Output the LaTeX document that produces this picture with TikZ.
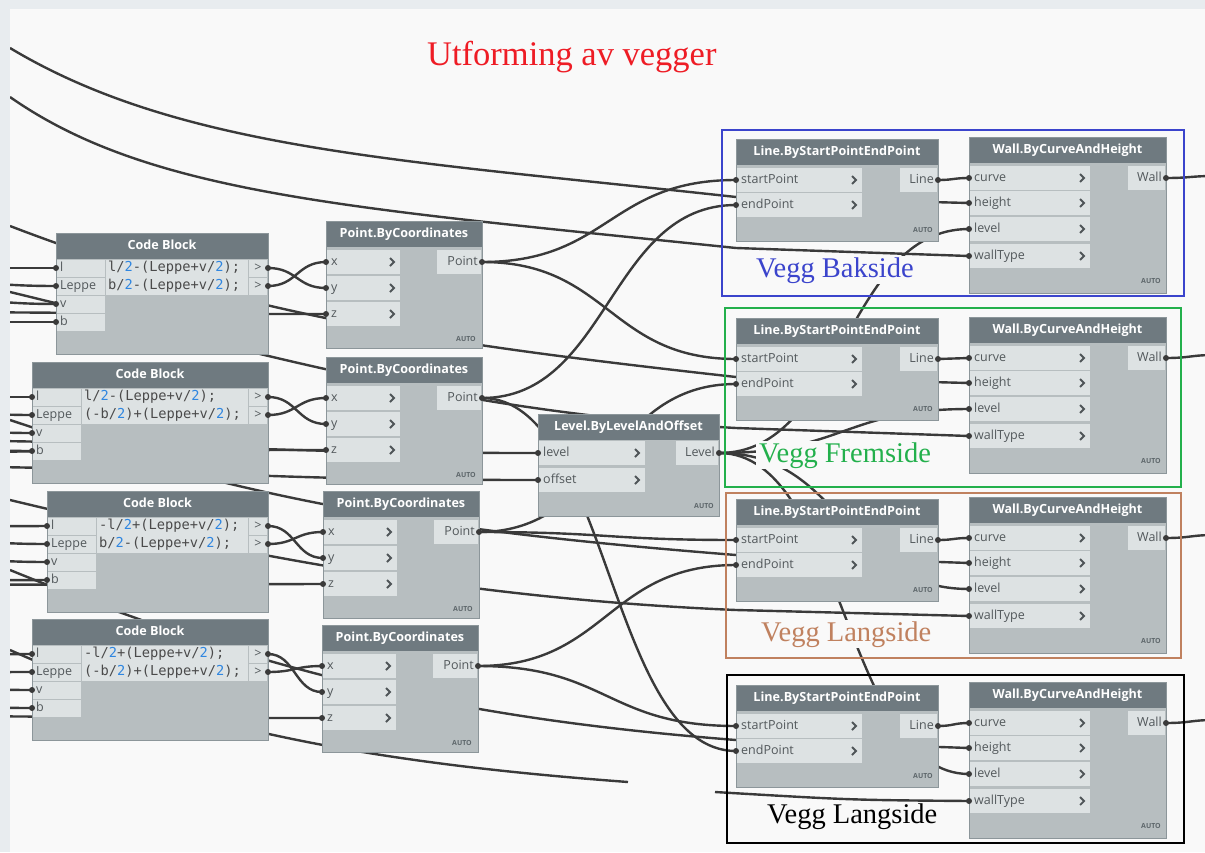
\documentclass[tikz,border=0pt]{standalone}
\usepackage{fontspec}
\setmainfont{Liberation Serif}
\newfontfamily\uifont{Open Sans}
\newfontfamily\codefont{DejaVu Sans Mono}
\usetikzlibrary{calc}
\pgfdeclarelayer{bgl}\pgfdeclarelayer{wirel}\pgfdeclarelayer{topl}
\pgfsetlayers{bgl,wirel,main,topl}

\definecolor{canvas}{HTML}{F9F9F9}
\definecolor{sidebar}{HTML}{E8ECEF}
\definecolor{hdr}{HTML}{6F7A80}
\definecolor{nbody}{HTML}{B7BEC0}
\definecolor{prow}{HTML}{DDE2E3}
\definecolor{ptext}{HTML}{52585B}
\definecolor{codegray}{HTML}{4A4A4A}
\definecolor{nborder}{HTML}{8C969A}
\definecolor{wirec}{HTML}{3A3A3A}
\definecolor{chevc}{HTML}{4F5558}
\definecolor{autogray}{HTML}{5E676B}
\definecolor{numblue}{HTML}{2F86E0}
\definecolor{grpblue}{HTML}{3B44CC}
\definecolor{grpgreen}{HTML}{23B04C}
\definecolor{grpbrown}{HTML}{C0815F}
\definecolor{titlered}{HTML}{EE1C25}

\tikzset{
  wire/.style={draw=wirec, line width=2.4pt},
  hdrtext/.style={text=white, font=\uifont\bfseries\fontsize{12.6}{14}\selectfont, inner sep=0, text height=9pt, text depth=2.5pt},
  porttext/.style={text=ptext, font=\uifont\fontsize{12.5}{14}\selectfont, inner sep=0, text height=9pt, text depth=3pt},
  codetext/.style={text=codegray, font=\codefont\fontsize{13.7}{15}\selectfont, inner sep=0, text height=10pt, text depth=3pt},
  autotext/.style={text=autogray, font=\uifont\bfseries\fontsize{7}{8}\selectfont, inner sep=0},
  chev/.style={draw=chevc, line width=1.8pt},
  portc/.style={fill=wirec},
  grp/.style={line width=2.6pt},
  vlabel/.style={font=\fontsize{28.5}{30}\selectfont, fill=canvas, inner xsep=3pt, inner ysep=1pt, anchor=base west},
}

\newcommand{\nt}{\textcolor{numblue}{2}}

% generic node frame: x y w h title
\newcommand{\nodebox}[5]{%
  \fill[nbody] ({#1},{#2}) rectangle ++(#3,#4);
  \fill[hdr] ({#1},{#2}) rectangle ++(#3,26);
  \draw[nborder] ({#1},{#2}) rectangle ++(#3,#4);
  \node[hdrtext] at ({#1+#3/2},{#2+13.5}) {#5};
}
% input port: name x yc width label
\newcommand{\inport}[5]{%
  \fill[prow] ({#2+1},{#3-12}) rectangle ({#2+#4},{#3+12});
  \node[porttext,anchor=west] at ({#2+5},{#3}) {#5};
  \draw[chev] ({#2+#4-10},{#3-4}) -- ({#2+#4-6},{#3}) -- ({#2+#4-10},{#3+4});
  \coordinate (#1) at ({#2},{#3});
  \fill[portc] ({#2},{#3}) circle (3);
}
% output port: name xright yc width label
\newcommand{\outport}[5]{%
  \fill[prow] ({#2-#4},{#3-12}) rectangle ({#2-1},{#3+12});
  \node[porttext,anchor=east] at ({#2-4},{#3}) {#5};
  \coordinate (#1) at ({#2},{#3});
  \fill[portc] ({#2},{#3}) circle (3);
}
\newcommand{\autotag}[2]{\node[autotext,anchor=east] at ({#1},{#2}) {AUTO};}

\newcommand{\pointnode}[3]{%
  \nodebox{#2}{#3}{156}{127}{Point.ByCoordinates}
  \inport{#1-x}{#2}{#3+41}{74}{x}
  \inport{#1-y}{#2}{#3+67}{74}{y}
  \inport{#1-z}{#2}{#3+93}{74}{z}
  \outport{#1-out}{#2+156}{#3+41}{45}{Point}
  \autotag{#2+150}{#3+118}
}
\newcommand{\linenode}[3]{%
  \nodebox{#2}{#3}{202}{102}{Line.ByStartPointEndPoint}
  \inport{#1-start}{#2}{#3+41}{126}{startPoint}
  \inport{#1-end}{#2}{#3+66}{126}{endPoint}
  \outport{#1-out}{#2+202}{#3+41}{38}{Line}
  \autotag{#2+197}{#3+91}
}
\newcommand{\wallnode}[3]{%
  \nodebox{#2}{#3}{197}{156}{Wall.ByCurveAndHeight}
  \inport{#1-curve}{#2}{#3+41}{121}{curve}
  \inport{#1-height}{#2}{#3+66}{121}{height}
  \inport{#1-level}{#2}{#3+92}{121}{level}
  \inport{#1-wallType}{#2}{#3+119}{121}{wallType}
  \outport{#1-out}{#2+197}{#3+41}{38}{Wall}
  \autotag{#2+192}{#3+144}
}
% code block input label cell: name x yc width label
\newcommand{\cbin}[5]{%
  \fill[prow] ({#2+1},{#3-8.5}) rectangle ({#2+#4},{#3+8.5});
  \node[porttext,anchor=west] at ({#2+4},{#3}) {#5};
  \coordinate (#1) at ({#2},{#3});
  \fill[portc] ({#2},{#3}) circle (3);
}
\newcommand{\cbout}[2]{%
  \fill[prow] (249,{#2-8.5}) rectangle (267,{#2+8.5});
  \node[porttext] at (258,{#2}) {>};
  \coordinate (#1) at (268,{#2});
  \fill[portc] (268,{#2}) circle (3);
}
% code block: name x y labelwidth line1 line2
\newcommand{\codeblock}[6]{%
  \fill[nbody] ({#2},{#3}) rectangle (268,{#3+121});
  \fill[hdr] ({#2},{#3}) rectangle (268,{#3+26});
  \draw[nborder] ({#2},{#3}) rectangle (268,{#3+121});
  \node[hdrtext] at ({(#2+268)/2},{#3+13.5}) {Code Block};
  \cbin{#1-l}{#2}{#3+35}{#4}{l}
  \cbin{#1-leppe}{#2}{#3+53}{#4}{Leppe}
  \cbin{#1-v}{#2}{#3+71}{#4}{v}
  \cbin{#1-b}{#2}{#3+89}{#4}{b}
  \fill[prow] ({#2+#4+1},{#3+26.5}) rectangle (248,{#3+61.5});
  \node[codetext,anchor=west] at ({#2+#4+3},{#3+35}) {#5};
  \node[codetext,anchor=west] at ({#2+#4+3},{#3+53}) {#6};
  \cbout{#1-o1}{#3+35}
  \cbout{#1-o2}{#3+53}
}
% Dynamo-style wire with horizontal tangents at both ends
\newcommand{\dwire}[2]{\draw[wire] let \p1=(#1), \p2=(#2) in (\p1) .. controls ({(\x1+\x2)/2},\y1) and ({(\x1+\x2)/2},\y2) .. (\p2);}

\begin{document}
\begin{tikzpicture}[x=1pt,y=-1pt]
\useasboundingbox (0,0) rectangle (1205,852);

\begin{pgfonlayer}{bgl}
  \fill[canvas] (0,0) rectangle (1205,852);
  \fill[sidebar] (0,0) rectangle (1205,9);
  \fill[sidebar] (0,0) rectangle (10,852);
\end{pgfonlayer}

% ---------- nodes ----------
\codeblock{CB1}{56}{233}{49}{l/\nt-(Leppe+v/\nt);}{b/\nt-(Leppe+v/\nt);}
\codeblock{CB2}{32}{362}{49}{l/\nt-(Leppe+v/\nt);}{(-b/\nt)+(Leppe+v/\nt);}
\codeblock{CB3}{47}{491}{49}{-l/\nt+(Leppe+v/\nt);}{b/\nt-(Leppe+v/\nt);}
\codeblock{CB4}{32}{619}{49}{-l/\nt+(Leppe+v/\nt);}{(-b/\nt)+(Leppe+v/\nt);}

\pointnode{P1}{326}{221}
\pointnode{P2}{326}{357}
\pointnode{P3}{323}{491}
\pointnode{P4}{322}{625}

\nodebox{538}{414}{181}{102}{Level.ByLevelAndOffset}
\inport{Lv-level}{538}{453}{107}{level}
\inport{Lv-offset}{538}{480}{107}{offset}
\outport{Lv-out}{719}{453}{43}{Level}
\autotag{714}{506}

\linenode{L1}{736}{139}
\linenode{L2}{736}{318}
\linenode{L3}{736}{499}
\linenode{L4}{736}{685}

\wallnode{W1}{969}{137}
\wallnode{W2}{969}{317}
\wallnode{W3}{969}{497}
\wallnode{W4}{969}{682}

% ---------- wires ----------
\coordinate (sA) at (10,48);
\coordinate (sB) at (10,97);
\coordinate (sC) at (10,226);
\coordinate (sD) at (10,292);
\coordinate (sE) at (10,420);
\coordinate (sF) at (10,500);
\coordinate (sG) at (10,570);
\coordinate (sH) at (10,650);
\coordinate (gapA) at (628,782);
\coordinate (gapB) at (715,792);
\foreach \n/\yy in {cb1l/268,cb1p/271,cb1v/286,cb1b/322,
                    cb2l/397,cb2p/401,cb2v/421,cb2b/450,
                    cb3l/527,cb3p/531,cb3v/549,cb3b/581,
                    cb4l/655,cb4p/674,cb4v/681,cb4b/700,
                    p1z/312,p2z/452,p3z/585,p4z/716,lvl/440,lvo/466}
  {\coordinate (src-\n) at (-150,\yy);}
\coordinate (e1) at (1215,176);
\coordinate (e2) at (1215,355);
\coordinate (e3) at (1215,535);
\coordinate (e4) at (1215,720);

\begin{pgfonlayer}{wirel}
\begin{scope}
  \clip (10,9) rectangle (1205,852);
  % feeds from the left
  \dwire{src-cb1l}{CB1-l} \dwire{src-cb1p}{CB1-leppe} \dwire{src-cb1v}{CB1-v} \dwire{src-cb1b}{CB1-b}
  \dwire{src-cb2l}{CB2-l} \dwire{src-cb2p}{CB2-leppe} \dwire{src-cb2v}{CB2-v} \dwire{src-cb2b}{CB2-b}
  \dwire{src-cb3l}{CB3-l} \dwire{src-cb3p}{CB3-leppe} \dwire{src-cb3v}{CB3-v} \dwire{src-cb3b}{CB3-b}
  \dwire{src-cb4l}{CB4-l} \dwire{src-cb4p}{CB4-leppe} \dwire{src-cb4v}{CB4-v} \dwire{src-cb4b}{CB4-b}
  \dwire{src-p1z}{P1-z} \dwire{src-p2z}{P2-z} \dwire{src-p3z}{P3-z} \dwire{src-p4z}{P4-z}
  \dwire{src-lvl}{Lv-level} \dwire{src-lvo}{Lv-offset}
  % heights and wall types
  \draw[wire] (sA) .. controls (180,150) and (400,160) .. (736,197) -- (W1-height);
  \draw[wire] (sB) .. controls (150,195) and (350,208) .. (736,248) -- (W1-wallType);
  \draw[wire] (sC) .. controls (250,318) and (450,345) .. (736,377) -- (W2-height);
  \draw[wire] (sD) .. controls (250,350) and (450,412) .. (736,428) -- (W2-wallType);
  \draw[wire] (sE) .. controls (250,500) and (420,530) .. (736,555) -- (W3-height);
  \draw[wire] (sF) .. controls (280,565) and (500,600) .. (736,610) -- (W3-wallType);
  \draw[wire] (sG) .. controls (280,680) and (480,720) .. (736,740) -- (W4-height);
  \draw[wire] (sH) .. controls (200,735) and (400,765) .. (gapA);
  \draw[wire] (gapB) .. controls (850,800) .. (W4-wallType);
  % code blocks to points
  \dwire{CB1-o1}{P1-y} \dwire{CB1-o2}{P1-x}
  \dwire{CB2-o1}{P2-y} \dwire{CB2-o2}{P2-x}
  \dwire{CB3-o1}{P3-y} \dwire{CB3-o2}{P3-x}
  \dwire{CB4-o1}{P4-y} \dwire{CB4-o2}{P4-x}
  % points to lines
  \dwire{P1-out}{L1-start} \dwire{P1-out}{L2-start}
  \dwire{P2-out}{L1-end}   \dwire{P2-out}{L4-end}
  \dwire{P3-out}{L2-end}   \dwire{P3-out}{L3-start}
  \dwire{P4-out}{L3-end}   \dwire{P4-out}{L4-start}
  % lines to walls
  \dwire{L1-out}{W1-curve} \dwire{L2-out}{W2-curve}
  \dwire{L3-out}{W3-curve} \dwire{L4-out}{W4-curve}
  % level to walls
  \dwire{Lv-out}{W1-level} \dwire{Lv-out}{W2-level}
  \dwire{Lv-out}{W3-level} \dwire{Lv-out}{W4-level}
  % wall outputs
  \dwire{W1-out}{e1} \dwire{W2-out}{e2} \dwire{W3-out}{e3} \dwire{W4-out}{e4}
\end{scope}
\end{pgfonlayer}

% ---------- groups and labels ----------
\begin{pgfonlayer}{topl}
  \draw[grp, draw=grpblue]  (722,130) rectangle (1184,296);
  \draw[grp, draw=grpgreen] (725,308) rectangle (1181,487);
  \draw[grp, draw=grpbrown] (726,493) rectangle (1181,658);
  \draw[grp, draw=black]    (727,675) rectangle (1184,843);
  \node[vlabel, text=grpblue]  (lblA) at (753,277) {Vegg Bakside};
  \node[vlabel, text=grpgreen] (lblB) at (756,462) {Vegg Fremside};
  \node[vlabel, text=grpbrown] (lblC) at (758,641) {Vegg Langside};
  \node[vlabel, text=black]    (lblD) at (764,823) {Vegg Langside};
  \node[font=\fontsize{34.5}{37}\selectfont, text=titlered, anchor=base west, inner sep=0] (title) at (427,65) {Utforming av vegger};
\end{pgfonlayer}
\end{tikzpicture}
\end{document}
